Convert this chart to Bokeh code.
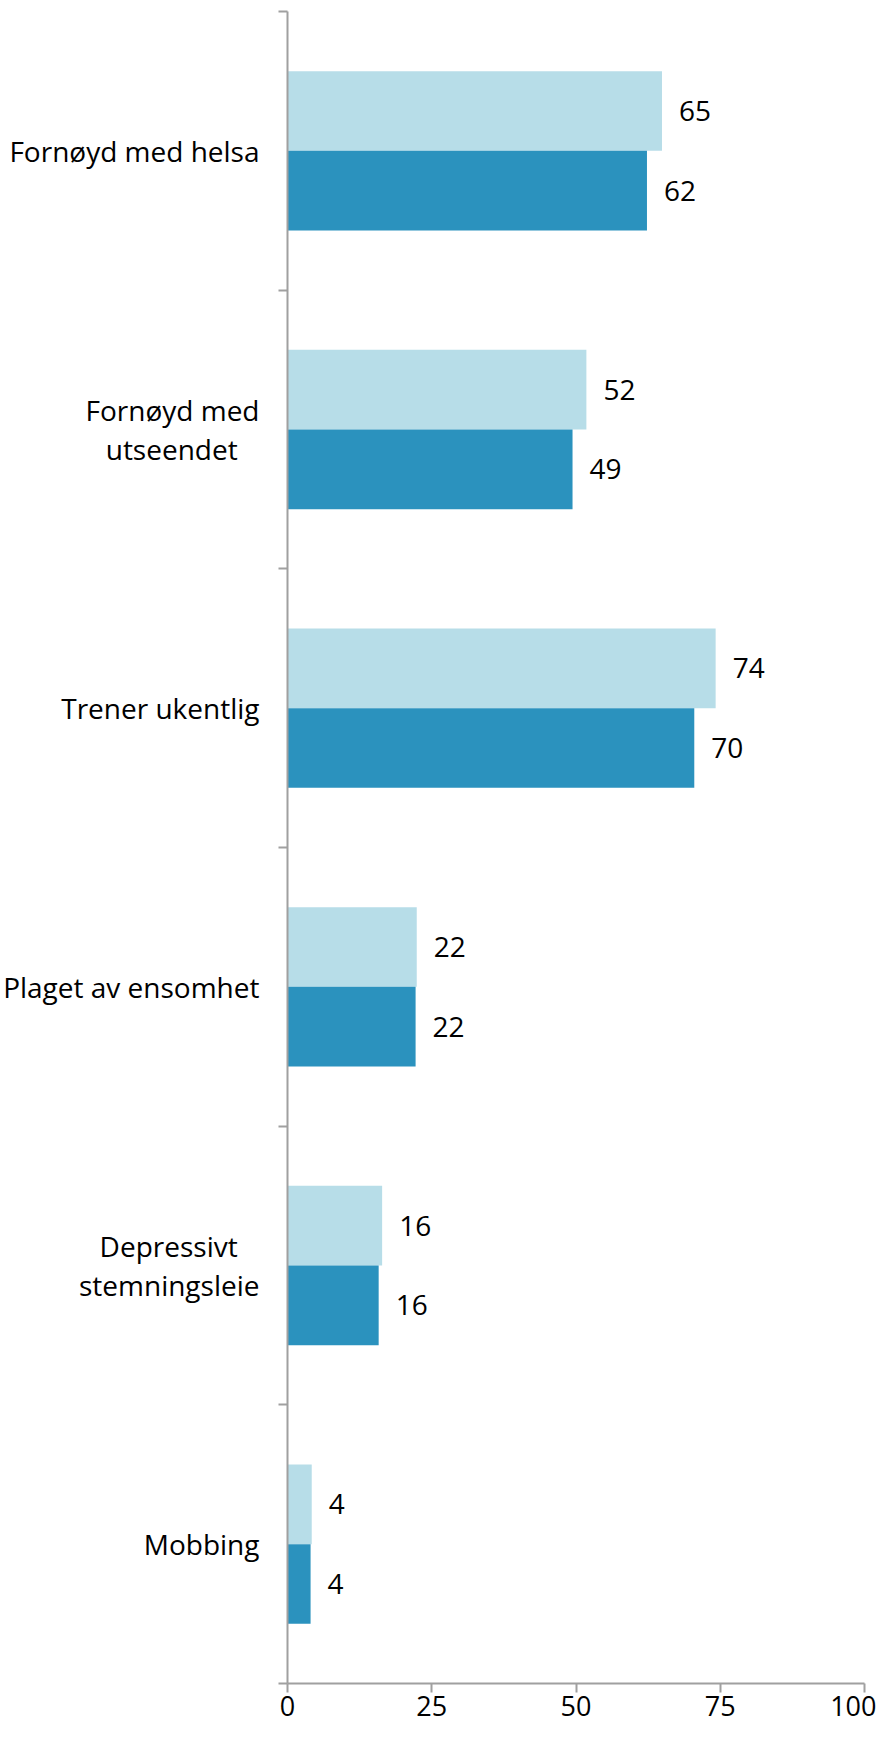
from bokeh.plotting import figure
from bokeh.models import Range1d, FixedTicker, ColumnDataSource
from bokeh.core.properties import value
from bokeh.embed import file_html
from bokeh.resources import INLINE

# --- data (top to bottom) ---
NB = "\u00a0"
categories = ["Fornøyd med helsa", "Fornøyd med\nutseendet" + NB * 3, "Trener ukentlig",
              "Plaget av ensomhet", "Depressivt" + NB * 3 + "\nstemningsleie", "Mobbing"]
light_values = [64.9, 51.8, 74.2, 22.4, 16.4, 4.2]
dark_values = [62.3, 49.4, 70.5, 22.2, 15.8, 4.0]
x_ticks = [0, 25, 50, 75, 100]

LIGHT = "#B7DDE8"
DARK = "#2B92BE"
AXIS = "#A0A0A0"
FONT = "Open Sans"

n = len(categories)
centers = [n - 0.5 - i for i in range(n)]
bar_h = 0.286

light_src = ColumnDataSource(dict(
    y=[c + bar_h / 2 for c in centers], v=light_values,
    t=[f"{v:.0f}" for v in light_values]))
dark_src = ColumnDataSource(dict(
    y=[c - bar_h / 2 for c in centers], v=dark_values,
    t=[f"{v:.0f}" for v in dark_values]))

p = figure(width=876, height=1723, output_backend="svg", toolbar_location=None,
           x_range=Range1d(0, 100), y_range=Range1d(0, n),
           min_border_left=285, min_border_right=12, min_border_top=11,
           min_border_bottom=40)
p.outline_line_color = None
p.grid.visible = False
p.background_fill_color = "white"

p.hbar(y="y", height=bar_h, left=0, right="v", source=light_src,
       fill_color=LIGHT, line_color=None)
p.hbar(y="y", height=bar_h, left=0, right="v", source=dark_src,
       fill_color=DARK, line_color=None)

for src in (light_src, dark_src):
    p.text(x="v", y="y", text="t", source=src, x_offset=17,
           text_baseline="middle", text_align="left",
           text_font=value(FONT), text_font_size="28px", text_color="black")

# x axis
xa = p.xaxis[0]
xa.ticker = FixedTicker(ticks=x_ticks, minor_ticks=[])
xa.axis_line_color = AXIS
xa.axis_line_width = 2
xa.major_tick_line_color = AXIS
xa.major_tick_line_width = 2
xa.major_tick_out = 9
xa.major_tick_in = 0
xa.minor_tick_line_color = None
xa.major_label_text_font = FONT
xa.major_label_text_font_size = "27px"
xa.major_label_text_color = "black"
xa.major_label_standoff = 3

# y axis
ya = p.yaxis[0]
ya.ticker = FixedTicker(ticks=centers, minor_ticks=list(range(n + 1)))
ya.major_label_overrides = {c: lab for c, lab in zip(centers, categories)}
ya.axis_line_color = AXIS
ya.axis_line_width = 2
ya.major_tick_line_color = None
ya.major_tick_out = 0
ya.major_tick_in = 0
ya.minor_tick_line_color = AXIS
ya.minor_tick_line_width = 2
ya.minor_tick_out = 9
ya.minor_tick_in = 0
ya.major_label_text_font = FONT
ya.major_label_text_font_size = "28px"
ya.major_label_text_color = "black"
ya.major_label_text_line_height = 1.05
ya.major_label_standoff = 19

open("out.html", "w").write(file_html(p, INLINE))
